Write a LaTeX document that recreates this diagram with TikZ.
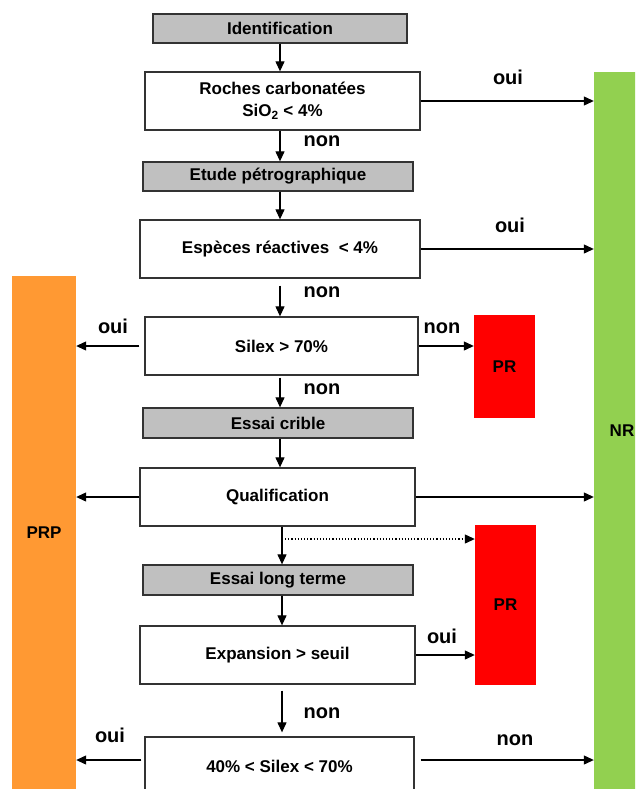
\documentclass[tikz,border=0pt]{standalone}
\usepackage{fontspec}
\setmainfont{Liberation Sans}
\usetikzlibrary{arrows.meta}
\definecolor{boxgray}{HTML}{C0C0C0}
\definecolor{prporange}{HTML}{FF9933}
\definecolor{nrgreen}{HTML}{92D050}
\definecolor{prred}{HTML}{FF0000}
\definecolor{edge}{HTML}{333333}
\begin{document}
\begin{tikzpicture}[x=1pt,y=-1pt,
  stepbox/.style={draw=edge, line width=1.3pt, fill=white, inner sep=0pt, minimum height=58pt,
    font=\fontsize{17}{22}\selectfont\bfseries, align=center},
  graybox/.style={stepbox, fill=boxgray, minimum height=29pt},
  bar/.style={draw=none, inner sep=0pt, font=\fontsize{17}{18}\selectfont\bfseries},
  arr/.style={-{Triangle[length=10pt,width=9pt]}, line width=1.15pt},
  lbl/.style={font=\fontsize{20}{20}\selectfont\bfseries, inner sep=0pt}
]
\clip (0,0) rectangle (635,789);
\fill[white] (0,0) rectangle (635,789);

% bars
\node[bar, fill=prporange, minimum width=64pt, minimum height=513pt] (prp) at (44,532.5) {PRP};
\node[bar, fill=nrgreen, minimum width=56pt, minimum height=718pt] (nr) at (622,431) {NR};
\node[bar, fill=prred, minimum width=61pt, minimum height=103pt] (pr1) at (504.5,366.5) {PR};
\node[bar, fill=prred, minimum width=61pt, minimum height=160pt] (pr2) at (505.5,605) {PR};

% boxes
\node[graybox, minimum width=254pt] (ident) at (280,28.5) {Identification};
\node[stepbox, minimum width=275pt] (roches) at (282.5,101) {Roches carbonatées\\SiO\textsubscript{2} < 4\%};
\node[graybox, minimum width=270pt] (etude) at (278,176.5) {Etude pétrographique};
\node[stepbox, minimum width=280pt] (especes) at (280,249) {Espèces réactives\ \ < 4\%};
\node[stepbox, minimum width=273pt] (silex) at (281.5,346) {Silex > 70\%};
\node[graybox, minimum width=270pt, minimum height=30pt] (crible) at (278,423) {Essai crible};
\node[stepbox, minimum width=275pt] (qualif) at (277.5,497) {Qualification};
\node[graybox, minimum width=270pt, minimum height=30pt] (long) at (278,580) {Essai long terme};
\node[stepbox, minimum width=275pt] (expansion) at (277.5,655) {Expansion > seuil};
\node[stepbox, minimum width=269pt] (silexb) at (279.5,766) {40\% < Silex < 70\%};

% vertical arrows
\coordinate (cA) at (280,0);
\coordinate (cB) at (282,0);
\draw[arr] (ident.south -| cA) -- (roches.north -| cA);
\draw[arr] (roches.south -| cA) -- (etude.north -| cA);
\draw[arr] (etude.south -| cA) -- (especes.north -| cA);
\draw[arr, shorten <=7pt] (especes.south -| cA) -- (silex.north -| cA);
\draw[arr, shorten <=2pt] (silex.south -| cA) -- (crible.north -| cA);
\draw[arr] (crible.south -| cA) -- (qualif.north -| cA);
\draw[arr] (qualif.south -| cB) -- (long.north -| cB);
\draw[arr] (long.south -| cB) -- (expansion.north -| cB);
\draw[arr, shorten <=6pt, shorten >=4pt] (expansion.south -| cB) -- (silexb.north -| cB);

% horizontal arrows
\draw[arr] (roches.east) -- (roches.east -| nr.west);
\draw[arr] (especes.east) -- (especes.east -| nr.west);
\draw[arr, shorten <=5pt] (silex.west) -- (silex.west -| prp.east);
\draw[arr] (silex.east) -- (silex.east -| pr1.west);
\draw[arr] (qualif.west) -- (qualif.west -| prp.east);
\draw[arr] (qualif.east) -- (qualif.east -| nr.west);
\coordinate (dp) at (282,539);
\draw[arr, dotted] (dp) -- (dp -| pr2.west);
\draw[arr] (expansion.east) -- (expansion.east -| pr2.west);
\coordinate (yb) at (0,760);
\draw[arr, shorten <=3pt] (silexb.west |- yb) -- (prp.east |- yb);
\draw[arr, shorten <=6pt] (silexb.east |- yb) -- (nr.west |- yb);

% labels
\node[lbl] (l1) at (508,77) {oui};
\node[lbl] (l2) at (322,141) {non};
\node[lbl] (l3) at (510,225) {oui};
\node[lbl] (l4) at (322,292) {non};
\node[lbl] (l5) at (113,326) {oui};
\node[lbl] (l6) at (442,328) {non};
\node[lbl] (l7) at (322,389) {non};
\node[lbl] (l8) at (442,636) {oui};
\node[lbl] (l9) at (322,713) {non};
\node[lbl] (l10) at (110,735) {oui};
\node[lbl] (l11) at (515,740) {non};
\end{tikzpicture}
\end{document}
